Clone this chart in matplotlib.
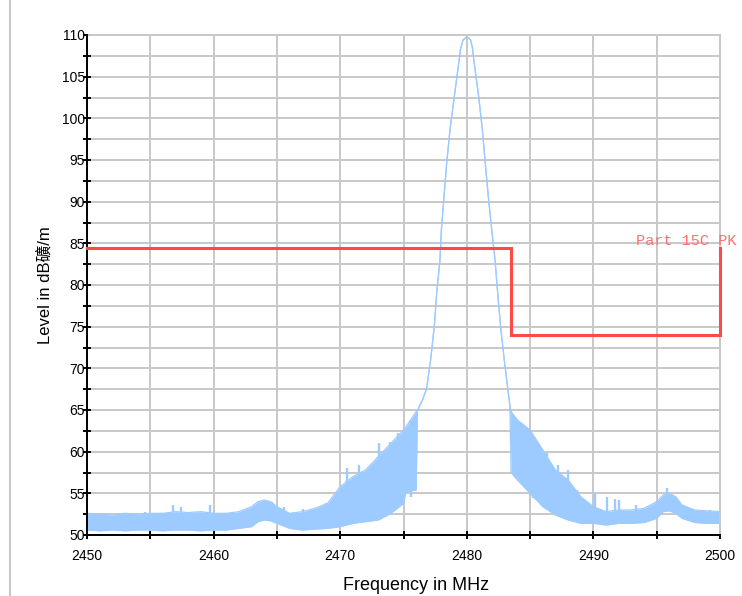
import matplotlib
matplotlib.use('Agg')
import matplotlib.pyplot as plt
from matplotlib.lines import Line2D
from matplotlib.ticker import MultipleLocator

# trace envelope (MHz, dB)
freq_mhz = [2450, 2451, 2452, 2453, 2454, 2455, 2456, 2457, 2458, 2459,
            2460, 2461, 2462, 2463, 2463.5, 2464, 2464.5, 2465, 2466, 2467,
            2468, 2469, 2470, 2471, 2472, 2473, 2474, 2475, 2475.2, 2476.0,
            2476.1, 2476.5, 2476.83, 2477.14, 2477.43, 2477.62, 2477.88,
            2477.99, 2478.2, 2478.41, 2478.67, 2479.01, 2479.36, 2479.5,
            2479.7, 2480.0, 2480.3, 2480.45, 2480.57, 2480.94, 2481.23,
            2481.46, 2481.7, 2481.97, 2482.23, 2482.44, 2482.67, 2482.96,
            2483.28, 2483.4, 2483.5, 2484, 2485, 2486, 2487, 2488, 2489,
            2490, 2491, 2492, 2493, 2494, 2495, 2495.5, 2496, 2496.5, 2497,
            2498, 2499, 2500]
level_low = [50.6, 50.5, 50.6, 50.5, 50.6, 50.6, 50.5, 50.6, 50.6, 50.5,
             50.6, 50.6, 50.8, 51.0, 51.6, 51.8, 51.7, 51.4, 50.8, 50.6,
             50.7, 50.8, 51.0, 51.4, 51.6, 51.8, 52.6, 53.8, 55.2, 55.4,
             64.9, 66.2, 67.6, 71.0, 75.0, 79.0, 83.0,
             86.6, 90.6, 94.6, 98.6, 102.6, 106.6, 108.3,
             109.4, 109.8, 109.4, 108.4, 106.8, 102.6, 98.6,
             94.6, 90.6, 86.6, 83.0, 79.0, 75.0, 71.0,
             67.0, 65.6, 57.5, 56.6, 55.0, 53.4, 52.4, 51.8, 51.4,
             51.4, 51.2, 51.4, 51.4, 51.5, 52.0, 52.8, 52.9, 52.6, 52.0,
             51.5, 51.4, 51.4]
level_high = [52.6, 52.5, 52.4, 52.6, 52.5, 52.6, 52.6, 52.8, 52.7, 52.8,
              52.6, 52.6, 52.8, 53.4, 54.0, 54.2, 54.0, 53.4, 52.6, 52.8,
              53.2, 53.8, 55.8, 57.0, 57.8, 59.4, 61.0, 62.6, 63.0, 64.8,
              65.0, 66.2, 67.6, 71.0, 75.0, 79.0, 83.0,
              86.6, 90.6, 94.6, 98.6, 102.6, 106.6, 108.3,
              109.4, 109.8, 109.4, 108.4, 106.8, 102.6, 98.6,
              94.6, 90.6, 86.6, 83.0, 79.0, 75.0, 71.0,
              67.0, 65.6, 64.8, 63.8, 62.6, 60.2, 57.8, 56.6, 54.6,
              53.4, 52.8, 53.0, 53.0, 53.2, 54.0, 54.8, 55.0, 54.6, 53.6,
              53.0, 52.9, 52.8]

# single noise readings that stick out of the band
spike_freq = [2454.6, 2456.8, 2457.4, 2459.7, 2463.7, 2464.6, 2465.6, 2467.1,
              2468.9, 2469.6, 2470.5, 2471.0, 2471.5, 2472.1, 2472.5, 2473.1,
              2473.5, 2473.9, 2474.6, 2475.6, 2485.25, 2486.0, 2486.3, 2487.2,
              2488.0, 2488.7, 2490.1, 2491.05, 2491.7, 2492.0, 2493.4,
              2495.8, 2499.2]
spike_low = [50.6, 50.6, 50.6, 50.6, 51.8, 51.8, 51.2, 50.6,
             50.8, 50.9, 51.2, 51.4, 51.5, 51.6, 51.7, 51.8,
             52.2, 52.5, 53.2, 54.6, 54.5, 53.4, 53.0, 52.3,
             51.8, 51.6, 51.4, 51.2, 51.3, 51.4, 51.4,
             52.9, 51.4]
spike_high = [52.8, 53.6, 53.4, 53.6, 54.0, 54.0, 53.4, 53.1,
              53.8, 54.6, 58.0, 56.8, 58.4, 57.2, 58.0, 61.0,
              59.2, 61.2, 62.2, 63.8, 61.2, 60.0, 59.8, 58.4,
              57.8, 55.4, 55.0, 54.6, 54.3, 54.2, 53.6,
              55.6, 53.0]

# Part 15C peak limit
limit_freq = [2450, 2483.5, 2483.5, 2500, 2500]
limit_level = [84.4, 84.4, 74.0, 74.0, 84.4]

x_ticks = [2450, 2460, 2470, 2480, 2490, 2500]
y_ticks = [50, 55, 60, 65, 70, 75, 80, 85, 90, 95, 100, 105, 110]

plt.rcParams['font.family'] = ['Liberation Sans', 'Noto Sans CJK SC']

fig = plt.figure(figsize=(7.42, 5.96), dpi=100)
ax = fig.add_axes([87 / 742, 1 - 535 / 596, 633 / 742, 500 / 596])

trace_color = '#9ecbff'
ax.fill_between(freq_mhz, level_low, level_high, color=trace_color, lw=0)
ax.plot(freq_mhz, level_high, color=trace_color, lw=0.9)
ax.plot(freq_mhz, level_low, color=trace_color, lw=0.9)
ax.vlines(spike_freq, spike_low, spike_high, color=trace_color, lw=1.7)

ax.plot(limit_freq, limit_level, color='#ff4848', lw=2.2,
        solid_joinstyle='miter', clip_on=False, zorder=6)
ax.text(2493.4, 84.8, 'Part 15C PK', color='#ff7070', fontsize=11,
        family='Liberation Mono', va='baseline', ha='left', clip_on=False)

ax.set_xlim(2450, 2500)
ax.set_ylim(50, 110)
ax.set_xticks(x_ticks)
ax.set_yticks(y_ticks)
ax.xaxis.set_minor_locator(MultipleLocator(5))
ax.yaxis.set_minor_locator(MultipleLocator(2.5))
ax.grid(which='both', color='#c8c8c8', lw=1.4)
ax.set_axisbelow(True)

ax.tick_params(which='both', direction='inout', length=5.8, width=1.4,
               color='black', labelsize=10)
ax.tick_params(axis='y', pad=-1.5)
ax.tick_params(axis='x', pad=7.5)

for side in ['left', 'bottom']:
    ax.spines[side].set_linewidth(1.4)
    ax.spines[side].set_zorder(5)
for side in ['top', 'right']:
    ax.spines[side].set_color('#c8c8c8')
    ax.spines[side].set_linewidth(1.4)

ax.set_xlabel('Frequency in MHz', fontsize=13)
ax.xaxis.set_label_coords(0.52, -0.085)
ax.set_ylabel('Level in dB礦/m', fontsize=12)
ax.yaxis.set_label_coords(-0.055, 0.5)

fig.add_artist(Line2D([10 / 742, 10 / 742], [0, 1], color='#c8c8c8', lw=1.5,
                      transform=fig.transFigure))

fig.savefig('out.png', dpi=100, facecolor='white')
